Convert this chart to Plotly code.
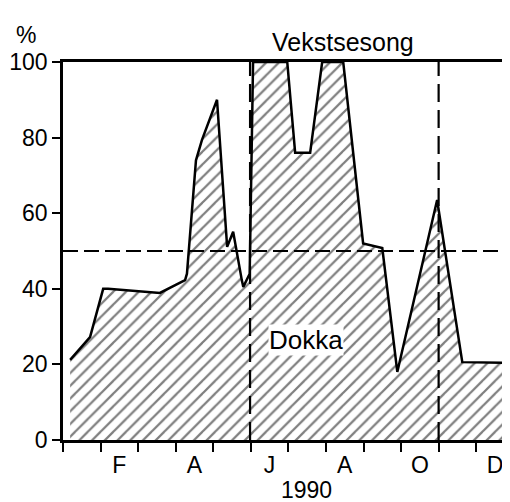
import plotly.graph_objects as go

# Data (x in months since Jan 1, 1990; y in %)
month_pos = [0.19, 0.72, 1.07, 1.20, 2.58, 3.25, 3.30, 3.54, 3.70, 4.10, 4.37, 4.53,
             4.76, 4.80, 4.97, 5.06, 5.97, 6.18, 6.58, 6.90, 7.46, 7.99, 8.50, 8.90,
             9.96, 10.63, 11.92]
percent = [21.2, 27.2, 40.0, 40.0, 38.9, 42.3, 44.0, 74.0, 79.4, 90.0, 51.1, 55.1,
           42.3, 40.5, 44.0, 100.0, 100.0, 76.0, 76.0, 100.0, 100.0, 52.0, 50.8, 18.0,
           63.5, 20.6, 20.4]

month_labels = ["F", "A", "J", "A", "O", "D"]
month_label_pos = [1.5, 3.5, 5.5, 7.5, 9.5, 11.5]
month_bounds = list(range(0, 13))
y_ticks = [0, 20, 40, 60, 80, 100]

threshold = 50
season_start = 4.98
season_end = 10.0

FONT = "Liberation Sans, Arial, Helvetica, sans-serif"

fig = go.Figure()
fig.add_trace(go.Scatter(
    x=month_pos, y=percent, mode="lines",
    line=dict(color="black", width=2.5),
    fill="tozeroy", fillcolor="white",
    fillpattern=dict(shape="/", fgcolor="black", bgcolor="white", size=9, solidity=0.25),
    showlegend=False, hoverinfo="skip",
))

# dashed threshold and growing-season lines
fig.add_shape(type="line", xref="paper", yref="y", x0=0, x1=1, y0=threshold, y1=threshold,
              line=dict(color="black", width=2, dash="15px,6px"), layer="above")
for xv in (season_start, season_end):
    fig.add_shape(type="line", xref="x", yref="y", x0=xv, x1=xv, y0=0, y1=100,
                  line=dict(color="black", width=2.2, dash="18px,8px"), layer="above")

fig.add_annotation(x=6.47, y=26.5, xref="x", yref="y", text="Dokka", showarrow=False,
                   font=dict(family=FONT, size=26, color="black"), bgcolor="white", borderpad=0)
fig.add_annotation(x=0.626, y=1.053, xref="paper", yref="paper", text="Vekstsesong",
                   xanchor="center", yanchor="middle",
                   showarrow=False, font=dict(family=FONT, size=25, color="black"))
fig.add_annotation(x=-0.083, y=1.072, xref="paper", yref="paper", text="%", showarrow=False,
                   xanchor="center", yanchor="middle",
                   font=dict(family=FONT, size=23, color="black"))
fig.add_annotation(x=0.544, y=-0.132, xref="paper", yref="paper", text="1990", showarrow=False,
                   xanchor="center", yanchor="middle",
                   font=dict(family=FONT, size=23, color="black"))

fig.update_layout(
    width=502, height=494,
    margin=dict(l=55, r=0, t=54, b=62, autoexpand=False),
    paper_bgcolor="white", plot_bgcolor="white",
    font=dict(family=FONT, size=23, color="black"),
    xaxis=dict(
        range=[0, 11.9], tickmode="array", tickvals=month_label_pos, ticktext=month_labels,
        ticks="outside", ticklen=3, tickcolor="rgba(0,0,0,0)",
        showline=True, linecolor="black", linewidth=2.5, mirror=True,
        showgrid=False, zeroline=False,
        minor=dict(tickmode="array", tickvals=month_bounds, ticks="outside",
                   ticklen=9, tickwidth=2, tickcolor="black", showgrid=False),
    ),
    yaxis=dict(
        range=[0, 100], tickmode="array", tickvals=y_ticks,
        ticks="outside", ticklen=8, tickwidth=2, tickcolor="black",
        showline=True, linecolor="black", linewidth=2.5, mirror=False,
        showgrid=False, zeroline=False,
    ),
)

fig.write_html("out.html")
